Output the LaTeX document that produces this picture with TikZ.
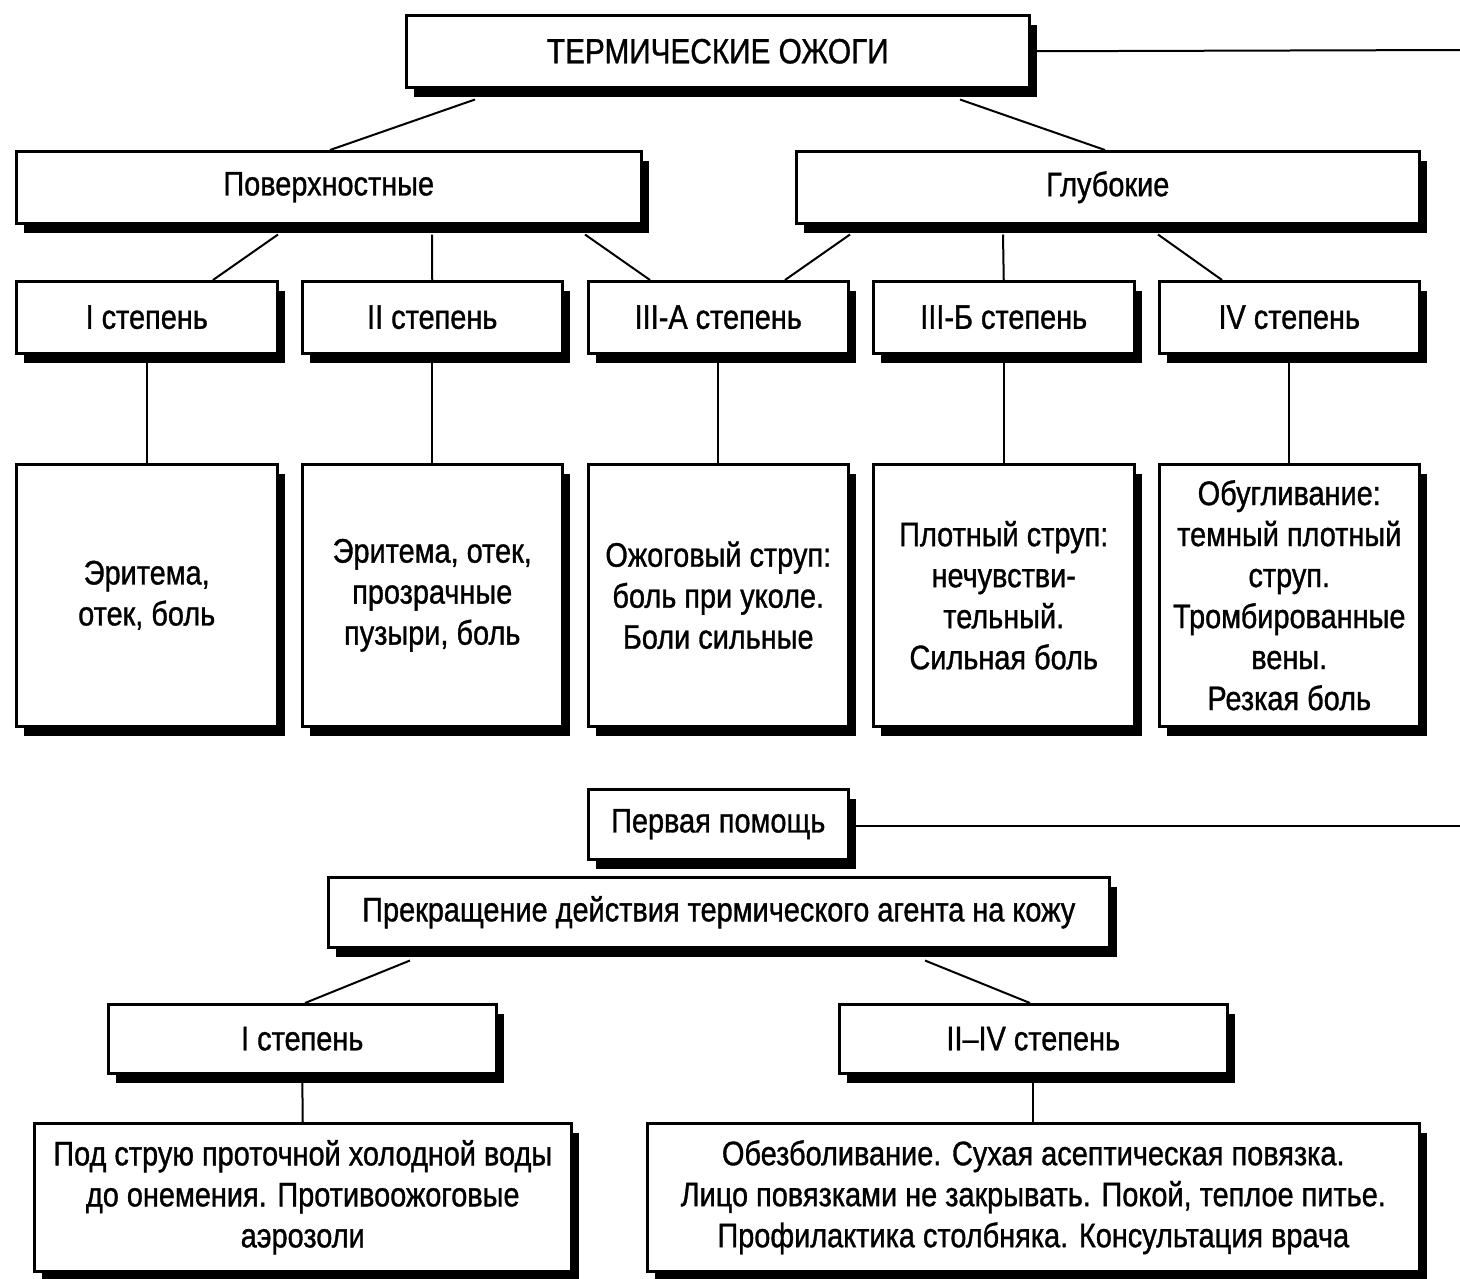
\documentclass[tikz,border=0pt]{standalone}
\usepackage{fontspec}
\setmainfont{Liberation Sans}[FakeStretch=0.85,FakeBold=1]
\usetikzlibrary{shadows,calc,backgrounds}
\begin{document}
\begin{tikzpicture}[x=1pt,y=-1pt,
  box/.style={draw, line width=2.5pt, fill=white, inner sep=0pt, align=center,
    anchor=north west, font=\fontsize{34}{41}\selectfont,
    drop shadow={shadow xshift=8pt, shadow yshift=-10pt, opacity=1, fill=black}},
  conn/.style={line width=2pt}]
\useasboundingbox (0,0) rectangle (1460,1278);

\node[box, minimum width=623pt, minimum height=72pt, font=\fontsize{35}{41}\selectfont] (title) at (405,14) {ТЕРМИЧЕСКИЕ ОЖОГИ};
\node[box, minimum width=625pt, minimum height=72pt] (pov) at (15,150) {Поверхностные};
\node[box, minimum width=623pt, minimum height=72pt] (glub) at (795,150) {Глубокие};

\node[box, minimum width=261pt, minimum height=72pt] (d1) at (15,280) {I степень};
\node[box, minimum width=260pt, minimum height=72pt] (d2) at (301,280) {II степень};
\node[box, minimum width=260pt, minimum height=72pt] (d3) at (587,280) {III-А степень};
\node[box, minimum width=261pt, minimum height=72pt] (d4) at (872,280) {III-Б степень};
\node[box, minimum width=260pt, minimum height=72pt] (d5) at (1158,280) {IV степень};

\node[box, minimum width=261pt, minimum height=262pt] (e1) at (15,463) {Эритема,\\отек, боль};
\node[box, minimum width=260pt, minimum height=262pt] (e2) at (301,463) {Эритема, отек,\\прозрачные\\пузыри, боль};
\node[box, minimum width=260pt, minimum height=262pt] (e3) at (587,463) {Ожоговый струп:\\боль при уколе.\\Боли сильные};
\node[box, minimum width=261pt, minimum height=262pt] (e4) at (872,463) {Плотный струп:\\нечувстви-\\тельный.\\Сильная боль};
\node[box, minimum width=260pt, minimum height=262pt] (e5) at (1158,463) {Обугливание:\\темный плотный\\струп.\\Тромбированные\\вены.\\Резкая боль};

\node[box, minimum width=260pt, minimum height=70pt] (pp) at (587,788) {Первая помощь};
\node[box, minimum width=781pt, minimum height=70pt] (stop) at (327,876) {Прекращение действия термического агента на кожу};

\node[box, minimum width=388pt, minimum height=69pt] (b1) at (107,1003) {I степень};
\node[box, minimum width=388pt, minimum height=69pt] (b2) at (838,1003) {II–IV степень};

\node[box, minimum width=537pt, minimum height=148pt] (t1) at (33,1122) {Под струю проточной холодной воды\\до онемения. Противоожоговые\\аэрозоли};
\node[box, minimum width=772pt, minimum height=148pt] (t2) at (646,1122) {Обезболивание. Сухая асептическая повязка.\\Лицо повязками не закрывать. Покой, теплое питье.\\Профилактика столбняка. Консультация врача};

\coordinate (r1) at (1460,50);
\coordinate (r2) at (1460,826);

\begin{scope}[on background layer]
\fill[white] (0,0) rectangle (1460,1278);
\draw[conn] ($(title.south west)+(70,11)$) -- ($(pov.north west)+(315,0)$);
\draw[conn] ($(title.south west)+(555,11)$) -- ($(glub.north west)+(310,0)$);
\draw[conn] ($(pov.south west)+(263,10)$) -- ($(d1.north west)+(198,0)$);
\draw[conn] ($(pov.south west)+(417,10)$) -- (d2.north);
\draw[conn] ($(pov.south west)+(570,10)$) -- ($(d3.north west)+(63,0)$);
\draw[conn] ($(glub.south west)+(55,10)$) -- ($(d3.north west)+(198,0)$);
\draw[conn] ($(glub.south west)+(208,10)$) -- (d4.north);
\draw[conn] ($(glub.south west)+(363,10)$) -- ($(d5.north west)+(64,0)$);
\draw[conn] (d1.south) -- (e1.north);
\draw[conn] (d2.south) -- (e2.north);
\draw[conn] (d3.south) -- (e3.north);
\draw[conn] (d4.south) -- (e4.north);
\draw[conn] (d5.south) -- (e5.north);
\draw[conn] (title.east) -- (r1);
\draw[conn] (pp.east |- r2) -- (r2);
\draw[conn] ($(stop.south west)+(83,12)$) -- ($(b1.north west)+(198,0)$);
\draw[conn] ($(stop.south west)+(598,12)$) -- ($(b2.north west)+(192,0)$);
\draw[conn] (b1.south) -- (t1.north);
\draw[conn] (b2.south) -- (t2.north);
\end{scope}
\end{tikzpicture}
\end{document}
